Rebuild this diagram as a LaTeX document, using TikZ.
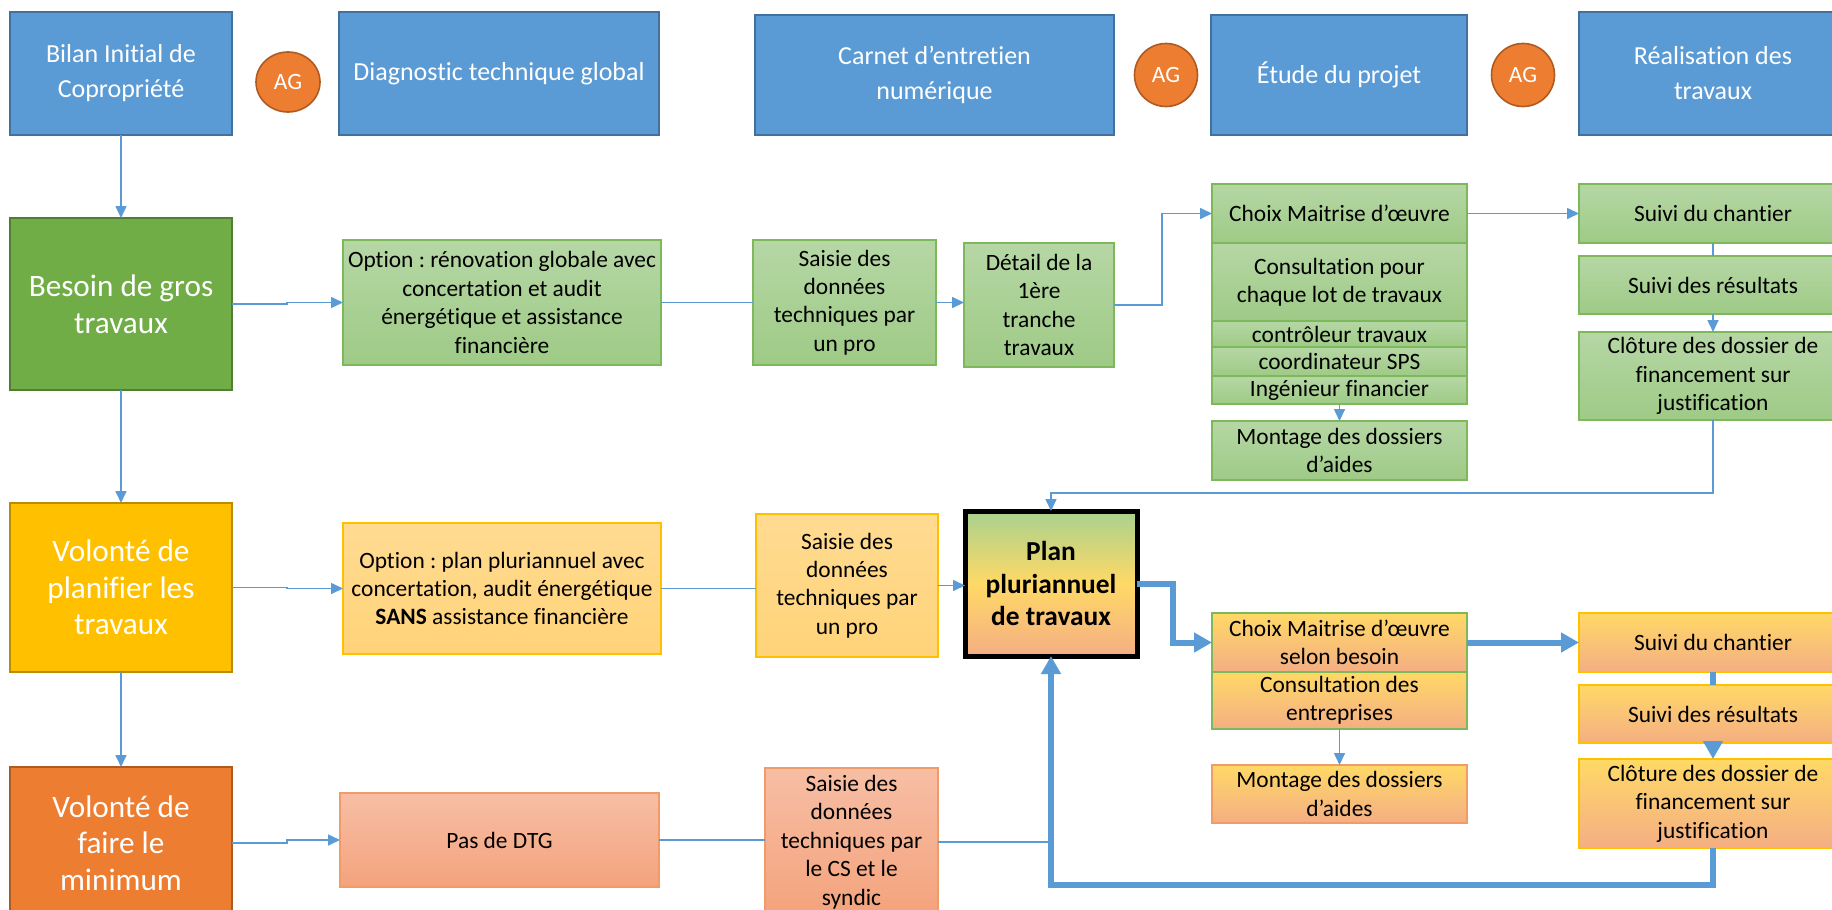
\documentclass[tikz,border=0pt]{standalone}
\usepackage{fontspec}
\setmainfont{Carlito}[Ligatures=NoCommon]
\usetikzlibrary{positioning}
\usetikzlibrary{shapes.geometric}
\usetikzlibrary{arrows.meta}
\frenchspacing

\definecolor{hdrblue}{HTML}{5B9BD5}
\definecolor{hdrline}{HTML}{41719C}
\definecolor{agorange}{HTML}{ED7D31}
\definecolor{agline}{HTML}{AE5A21}
\definecolor{dkgreen}{HTML}{70AD47}
\definecolor{dkgreenline}{HTML}{507E32}
\definecolor{gold}{HTML}{FFC000}
\definecolor{goldline}{HTML}{BC8C00}
\definecolor{gtop}{HTML}{B6D7A5}
\definecolor{gbot}{HTML}{9ECA86}
\definecolor{gline}{HTML}{7DB85A}
\definecolor{ytop}{HTML}{FFDB92}
\definecolor{ybot}{HTML}{FFD378}
\definecolor{otop}{HTML}{F7BEA5}
\definecolor{obot}{HTML}{F4A37C}
\definecolor{oline}{HTML}{F19B69}
\definecolor{yotop}{HTML}{FFD966}
\definecolor{yobot}{HTML}{F4AE84}
\definecolor{ptop}{HTML}{A9D18E}
\definecolor{arrowblue}{HTML}{5B9BD5}

\tikzset{
  sz/.style 2 args={minimum width=#1*0.5pt, minimum height=#2*0.5pt},
  cell/.style={rectangle, inner sep=0pt, outer sep=0pt, align=center, line width=0.6pt,
               font=\fontsize{11.7}{14.2}\selectfont},
  hdr/.style={cell, draw=hdrline, fill=hdrblue, text=white, font=\fontsize{13}{17.5}\selectfont},
  ag/.style={ellipse, draw=agline, fill=agorange, text=white, inner sep=0pt, line width=0.8pt,
             font=\fontsize{11.7}{14.2}\selectfont},
  lead/.style={cell, text=white, line width=1pt, font=\fontsize{15.6}{18.3}\selectfont},
  gbox/.style={cell, draw=gline, top color=gtop, bottom color=gbot},
  ybox/.style={cell, draw=gold, top color=ytop, bottom color=ybot},
  obox/.style={cell, draw=oline, top color=otop, bottom color=obot},
  yobox/.style={cell, top color=yotop, bottom color=yobot},
  planbox/.style={cell, draw=black, line width=2.5pt, top color=ptop, bottom color=yobot,
                  middle color=yotop, font=\fontsize{13.7}{16.2}\selectfont\bfseries},
  link/.style={draw=arrowblue, line width=0.8pt},
  arr/.style={-{Triangle[length=6pt,width=5.5pt]}},
  heavy/.style={draw=arrowblue, line width=3pt},
  bigarr/.style={-{Triangle[length=9pt,width=9.5pt]}}
}

\begin{document}
\begin{tikzpicture}[x=0.5pt, y=-0.5pt]
 \useasboundingbox (0,0) rectangle (1832,910);
 \clip (0,0) rectangle (1832,910);

 % top row
 \node[hdr, sz={222}{123}] (bilan)  at (121,73.5)  {Bilan Initial de\\Copropriété};
 \node[ag,  sz={64}{60}]   (ag1)    at (288,82)    {AG};
 \node[hdr, sz={320}{123}] (diag)   at (499,73.5)  {Diagnostic technique global};
 \node[hdr, sz={359}{120}] (carnet) at (934.5,75)  {Carnet d’entretien\\numérique};
 \node[ag,  sz={63}{63}]   (ag2)    at (1166,75)   {AG};
 \node[hdr, sz={256}{120}] (etude)  at (1339,75)   {Étude du projet};
 \node[ag,  sz={63}{63}]   (ag3)    at (1523,75)   {AG};
 \node[hdr, sz={268}{123}] (real)   at (1713,73.5) {Réalisation des\\travaux};

 % gros travaux
 \node[lead, fill=dkgreen, draw=dkgreenline, sz={222}{172}] (besoin) at (121,304) {Besoin de gros\\travaux};
 \node[gbox, sz={318}{125}] (optA)    at (502,302.5)  {Option : rénovation globale avec\\concertation et audit\\énergétique et assistance\\financière};
 \node[gbox, sz={183}{125}] (saisieA) at (844.5,302.5) {Saisie des\\données\\techniques par\\un pro};
 \node[gbox, sz={150}{124}] (detail)  at (1039,305)    {Détail de la\\1ère\\tranche\\travaux};
 \node[gbox, sz={255}{59}]  (choixA)  at (1339.5,213.5) {Choix Maitrise d’œuvre};
 \node[gbox, sz={255}{78}, below=0pt of choixA] (consA)  {Consultation pour\\chaque lot de travaux};
 \node[gbox, sz={255}{26}, below=0pt of consA]  (ctrlA)  {contrôleur travaux};
 \node[gbox, sz={255}{29}, below=0pt of ctrlA]  (coordA) {coordinateur SPS};
 \node[gbox, sz={255}{28}, below=0pt of coordA] (ingA)   {Ingénieur financier};
 \node[gbox, sz={255}{59}, below=8.5pt of ingA] (montA)  {Montage des dossiers\\d’aides};
 \node[gbox, sz={268}{59}]  (suiviA)  at (1713,213.5) {Suivi du chantier};
 \node[gbox, sz={268}{58}, below=6.5pt of suiviA] (resultA) {Suivi des résultats};
 \node[gbox, sz={268}{88}, below=9pt of resultA]  (clotA)   {Clôture des dossier de\\financement sur\\justification};

 % planifier
 \node[lead, fill=gold, draw=goldline, sz={222}{169}] (volonte) at (121,587.5) {Volonté de\\planifier les\\travaux};
 \node[ybox, sz={318}{131}] (optB)    at (502,588.5) {Option : plan pluriannuel avec\\concertation, audit énergétique\\\textbf{SANS} assistance financière};
 \node[ybox, sz={182}{143}] (saisieB) at (847,585.5) {Saisie des\\données\\techniques par\\un pro};
 \node[planbox, sz={172}{145}] (plan) at (1051,583.5) {Plan\\pluriannuel\\de travaux};
 \node[yobox, draw=gline, sz={255}{59}] (choixB) at (1339.5,642.5) {Choix Maitrise d’œuvre\\selon besoin};
 \node[yobox, draw=gline, sz={255}{57}, below=0pt of choixB] (consB) {Consultation des\\entreprises};
 \node[yobox, draw=oline, sz={255}{58}, below=18pt of consB]  (montB) {Montage des dossiers\\d’aides};
 \node[yobox, draw=gold, sz={268}{59}] (suiviB) at (1713,642.5) {Suivi du chantier};
 \node[yobox, draw=gold, sz={268}{58}, below=6.5pt of suiviB] (resultB) {Suivi des résultats};
 \node[yobox, draw=gold, sz={268}{89}, below=8pt of resultB]  (clotB)   {Clôture des dossier de\\financement sur\\justification};

 % minimum
 \node[lead, fill=agorange, draw=agline, sz={222}{152}] (minimum) at (121,843) {Volonté de\\faire le\\minimum};
 \node[obox, sz={319}{94}]  (pas)     at (499.5,840) {Pas de DTG};
 \node[obox, sz={173}{148}] (saisieC) at (851.5,842) {Saisie des\\données\\techniques par\\le CS et le\\syndic};

 % connectors
 \draw[link, arr] (bilan) -- (besoin);
 \draw[link, arr] (besoin) -- (volonte);
 \draw[link, arr] (volonte) -- (minimum);

 \draw[link, arr] (besoin.east) -- ++(55,0) |- (optA.west);
 \draw[link] (optA.east) -- (saisieA.west);
 \draw[link, arr] (saisieA.east) -- (saisieA.east -| detail.west);
 \draw[link, arr] (detail.east) -- ++(48,0) |- (choixA.west);
 \draw[link, arr] (choixA.east) -- (suiviA.west);
 \draw[link] (suiviA) -- (resultA);
 \draw[link, arr] (resultA) -- (clotA);
 \draw[link, arr] (ingA) -- (montA);
 \draw[link, arr] (clotA.south) -- ++(0,73) -| (plan.north);

 \draw[link, arr] (volonte.east) -- ++(55,0) |- (optB.west);
 \draw[link] (optB.east) -- (optB.east -| saisieB.west);
 \draw[link, arr] (saisieB.east) -- (saisieB.east -| plan.west);
 \draw[heavy, bigarr] (plan.east) -- ++(36,0) |- (choixB.west);
 \draw[heavy, bigarr] (choixB.east) -- (suiviB.west);
 \draw[heavy] (suiviB) -- (resultB);
 \draw[heavy, bigarr] (resultB) -- (clotB);
 \draw[link, arr] (consB) -- (montB);
 \draw[heavy, bigarr] (clotB.south) -- ++(0,37) -| (plan.south);

 \draw[link, arr] (minimum.east) -- ++(55,0) |- (pas.west);
 \draw[link] (pas.east) -- (pas.east -| saisieC.west);
 \draw[link] (saisieC.east) -- (saisieC.east -| plan.south);
\end{tikzpicture}
\end{document}
